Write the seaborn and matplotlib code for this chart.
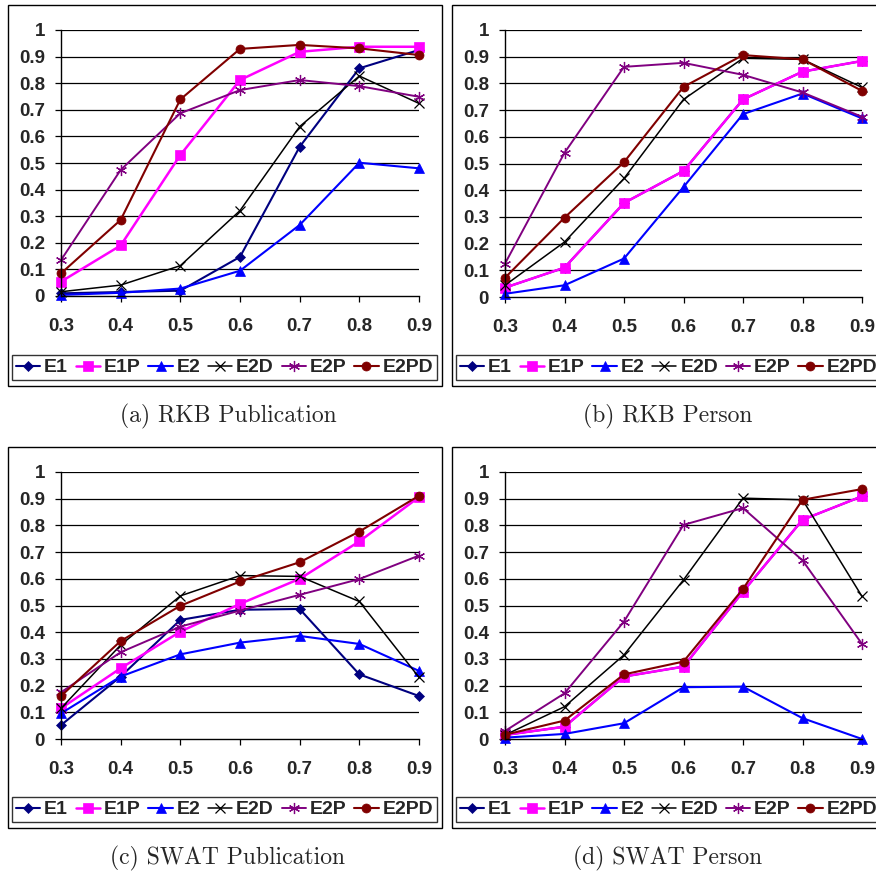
import matplotlib
matplotlib.use("Agg")
import matplotlib.pyplot as plt
import seaborn as sns
import pandas as pd
from matplotlib.patches import Rectangle

# ---------------- data ----------------
thresholds = [0.3, 0.4, 0.5, 0.6, 0.7, 0.8, 0.9]
x_tick_labels = ["0.3", "0.4", "0.5", "0.6", "0.7", "0.8", "0.9"]
y_ticks = [0, 0.1, 0.2, 0.3, 0.4, 0.5, 0.6, 0.7, 0.8, 0.9, 1.0]
y_tick_labels = ["0", "0.1", "0.2", "0.3", "0.4", "0.5", "0.6", "0.7", "0.8", "0.9", "1"]
series_names = ["E1", "E1P", "E2", "E2D", "E2P", "E2PD"]
captions = ["(a) RKB Publication", "(b) RKB Person",
            "(c) SWAT Publication", "(d) SWAT Person"]

rkb_pub_E1 = [0.010, 0.015, 0.020, 0.147, 0.561, 0.856, 0.925]
rkb_pub_E1P = [0.054, 0.190, 0.530, 0.812, 0.918, 0.937, 0.937]
rkb_pub_E2 = [0.004, 0.012, 0.028, 0.095, 0.267, 0.501, 0.480]
rkb_pub_E2D = [0.016, 0.041, 0.114, 0.321, 0.637, 0.827, 0.724]
rkb_pub_E2P = [0.135, 0.474, 0.687, 0.774, 0.812, 0.789, 0.749]
rkb_pub_E2PD = [0.085, 0.286, 0.739, 0.929, 0.944, 0.931, 0.906]

rkb_per_E1 = [0.035, 0.110, 0.352, 0.472, 0.740, 0.844, 0.884]
rkb_per_E1P = [0.035, 0.110, 0.352, 0.472, 0.740, 0.844, 0.884]
rkb_per_E2 = [0.012, 0.044, 0.144, 0.412, 0.685, 0.762, 0.669]
rkb_per_E2D = [0.044, 0.206, 0.444, 0.740, 0.894, 0.890, 0.785]
rkb_per_E2P = [0.125, 0.540, 0.862, 0.877, 0.832, 0.766, 0.675]
rkb_per_E2PD = [0.072, 0.297, 0.505, 0.787, 0.906, 0.890, 0.772]

swat_pub_E1 = [0.052, 0.234, 0.446, 0.484, 0.487, 0.242, 0.161]
swat_pub_E1P = [0.115, 0.265, 0.402, 0.506, 0.600, 0.740, 0.906]
swat_pub_E2 = [0.096, 0.234, 0.317, 0.361, 0.386, 0.356, 0.255]
swat_pub_E2D = [0.115, 0.352, 0.536, 0.612, 0.609, 0.515, 0.231]
swat_pub_E2P = [0.175, 0.325, 0.421, 0.481, 0.540, 0.599, 0.687]
swat_pub_E2PD = [0.161, 0.367, 0.499, 0.590, 0.662, 0.777, 0.911]

swat_per_E1 = [0.015, 0.046, 0.234, 0.271, 0.552, 0.821, 0.909]
swat_per_E1P = [0.015, 0.046, 0.234, 0.271, 0.552, 0.821, 0.909]
swat_per_E2 = [0.005, 0.019, 0.059, 0.194, 0.196, 0.078, 0.000]
swat_per_E2D = [0.015, 0.121, 0.315, 0.596, 0.902, 0.896, 0.534]
swat_per_E2P = [0.030, 0.171, 0.440, 0.802, 0.865, 0.669, 0.356]
swat_per_E2PD = [0.016, 0.069, 0.242, 0.290, 0.562, 0.896, 0.936]

panels = [
    [rkb_pub_E1, rkb_pub_E1P, rkb_pub_E2, rkb_pub_E2D, rkb_pub_E2P, rkb_pub_E2PD],
    [rkb_per_E1, rkb_per_E1P, rkb_per_E2, rkb_per_E2D, rkb_per_E2P, rkb_per_E2PD],
    [swat_pub_E1, swat_pub_E1P, swat_pub_E2, swat_pub_E2D, swat_pub_E2P, swat_pub_E2PD],
    [swat_per_E1, swat_per_E1P, swat_per_E2, swat_per_E2D, swat_per_E2P, swat_per_E2PD],
]

# ---------------- styles ----------------
styles = {
    "E1":   dict(color="#000080", marker="D", ms=5.5, lw=1.5, mew=0.5),
    "E1P":  dict(color="#FF00FF", marker="s", ms=6.5, lw=1.8, mew=0.5),
    "E2":   dict(color="#0000FF", marker="^", ms=7.0, lw=1.5, mew=0.5),
    "E2D":  dict(color="#000000", marker="x", ms=7.0, lw=1.1, mew=0.9),
    "E2P":  dict(color="#800080", marker=(6, 2, 0), ms=8.0, lw=1.4, mew=0.9),
    "E2PD": dict(color="#800000", marker="o", ms=6.5, lw=1.5, mew=0.5),
}

W = H = 876
DPI = 100
sns.set_style("white")
plt.rcParams["font.family"] = ["Liberation Sans", "DejaVu Sans"]

fig = plt.figure(figsize=(W / DPI, H / DPI), dpi=DPI)
fig.patch.set_facecolor("white")


def fx(px):
    return px / W


def fy(py):
    return 1 - py / H


# plot areas: (left, top, right, bottom) in pixels
plot_boxes = [(61, 30, 419, 296), (505, 30, 862, 297),
              (61, 472, 419, 739), (505, 472, 862, 739)]
panel_boxes = [(8, 5, 442, 386), (452, 5, 884, 386),
               (8, 447, 442, 828), (452, 447, 884, 828)]
legend_boxes = [(12, 353, 437, 382), (456, 353, 881, 382),
                (12, 795, 437, 824), (456, 795, 881, 824)]
caption_pos = [(228, 416), (668, 416), (228, 858), (668, 858)]

for i in range(4):
    l, t, r, b = plot_boxes[i]
    ax = fig.add_axes([fx(l), fy(b), fx(r - l), (b - t) / H])
    ax.set_facecolor("white")
    for name, vals in zip(series_names, panels[i]):
        st = styles[name]
        df = pd.DataFrame({"x": thresholds, "y": vals})
        sns.lineplot(data=df, x="x", y="y", ax=ax, color=st["color"],
                     marker=st["marker"], markersize=st["ms"], linewidth=st["lw"],
                     markeredgewidth=st["mew"], markeredgecolor=st["color"],
                     markerfacecolor=st["color"], label=name, clip_on=False,
                     legend=False)
    ax.set_xlim(0.3, 0.9)
    ax.set_ylim(0, 1)
    ax.set_xticks(thresholds)
    ax.set_xticklabels(x_tick_labels, fontweight="bold", fontsize=13.5)
    ax.set_yticks(y_ticks)
    ax.set_yticklabels(y_tick_labels, fontweight="bold", fontsize=13.5)
    ax.set_xlabel("")
    ax.set_ylabel("")
    ax.grid(False)
    for yv in y_ticks[1:]:
        ax.axhline(yv, color="black", lw=0.9, zorder=0)
    for s in ["top", "right"]:
        ax.spines[s].set_visible(False)
    for s in ["left", "bottom"]:
        ax.spines[s].set_color("black")
        ax.spines[s].set_linewidth(1.0)
    ax.tick_params(axis="y", direction="out", length=4.5, width=0.9,
                   color="black", pad=7, left=True)
    ax.tick_params(axis="x", direction="out", length=4.5, width=0.9,
                   color="black", pad=11, bottom=True)
    if ax.get_legend() is not None:
        ax.get_legend().remove()
    handles, labels = ax.get_legend_handles_labels()

    # panel border
    pl, pt, pr, pb = panel_boxes[i]
    fig.patches.append(Rectangle((fx(pl), fy(pb)), fx(pr - pl), (pb - pt) / H,
                                 transform=fig.transFigure, fill=False,
                                 edgecolor="black", lw=1.0))
    # legend
    ll, lt, lr, lb = legend_boxes[i]
    leg = fig.legend(handles, labels, loc="center",
                     bbox_to_anchor=(fx(ll), fy(lb), fx(lr - ll), (lb - lt) / H),
                     mode="expand", ncol=6, frameon=True, fancybox=False,
                     edgecolor="black", borderaxespad=0, handlelength=1.25,
                     handletextpad=0.2, columnspacing=0.3, borderpad=0.2,
                     prop=dict(family="Liberation Sans", weight="bold", size=14))
    leg.get_frame().set_linewidth(1.0)

    cx, cy = caption_pos[i]
    fig.text(fx(cx), fy(cy), captions[i], ha="center", va="center",
             fontsize=17, family="cmr10")

fig.savefig("out.png", dpi=DPI, facecolor="white")
